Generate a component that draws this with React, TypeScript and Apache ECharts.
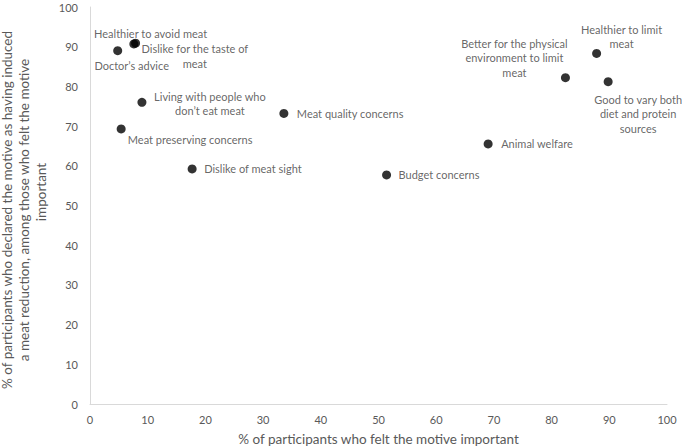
import React, { useEffect, useRef } from "react";
import * as echarts from "echarts";

const motives = [
  "Doctor’s advice",
  "Healthier to avoid meat",
  "Dislike for the taste of\nmeat",
  "Living with people who\ndon’t eat meat",
  "Meat preserving concerns",
  "Dislike of meat sight",
  "Meat quality concerns",
  "Budget concerns",
  "Animal welfare",
  "Better for the physical\nenvironment to limit\nmeat",
  "Healthier to limit\nmeat",
  "Good to vary both\ndiet and protein\nsources",
];
const feltImportant = [4.8, 7.9, 7.6, 9.0, 5.4, 17.7, 33.6, 51.4, 69.0, 82.4, 87.8, 89.8];
const inducedReduction = [89.0, 90.9, 90.7, 76.0, 69.3, 59.2, 73.2, 57.7, 65.5, 82.2, 88.3, 81.2];

// label placement: [align, dx, dy]
const labelPlacement: [string, number, number][] = [
  ["center", 14, 15],
  ["center", 15, -10],
  ["center", 61, 12],
  ["center", 68, 1],
  ["center", 69, 11],
  ["left", 12, 0],
  ["left", 13, 0],
  ["left", 12, 0],
  ["left", 13, 0],
  ["center", -51, -20],
  ["center", 25, -17],
  ["center", 30, 32],
];

const xTicks = [0, 10, 20, 30, 40, 50, 60, 70, 80, 90, 100];

const FONT = "Lato";

export default function App() {
  const ref = useRef<HTMLDivElement>(null);
  useEffect(() => {
    if (!ref.current) return;
    const chart = echarts.init(ref.current, null, { renderer: "svg" });
    const data = motives.map((name, i) => ({
      name,
      value: [feltImportant[i], inducedReduction[i]],
      label: {
        show: true,
        position: "inside",
        align: labelPlacement[i][0],
        verticalAlign: "middle",
        offset: [labelPlacement[i][1], labelPlacement[i][2]],
        formatter: name,
        color: "#404040",
        fontSize: 11,
        fontFamily: FONT,
        lineHeight: 14.5,
      },
    }));
    chart.setOption({
      animation: false,
      backgroundColor: "#ffffff",
      grid: {
        left: 90,
        right: 18,
        top: 7,
        bottom: 44,
        containLabel: false,
        outerBoundsMode: "none",
      },
      xAxis: {
        type: "value",
        min: xTicks[0],
        max: xTicks[xTicks.length - 1],
        interval: 10,
        axisLine: { show: true, lineStyle: { color: "#d9d9d9", width: 1 } },
        axisTick: { show: false },
        splitLine: { show: false },
        axisLabel: { color: "#595959", fontSize: 11, fontFamily: FONT, margin: 10 },
        name: "% of participants who felt the motive important",
        nameLocation: "middle",
        nameGap: 28,
        nameTextStyle: { color: "#595959", fontSize: 13.5, fontFamily: FONT },
      },
      yAxis: {
        type: "value",
        min: 0,
        max: 100,
        interval: 10,
        axisLine: { show: true, lineStyle: { color: "#d9d9d9", width: 1 } },
        axisTick: { show: false },
        splitLine: { show: false },
        axisLabel: { color: "#595959", fontSize: 11, fontFamily: FONT, margin: 12 },
      },
      graphic: [
        {
          type: "text",
          x: 7,
          y: 210,
          rotation: Math.PI / 2,
          style: {
            text: "% of participants who declared the motive as having induced",
            fill: "#595959",
            fontSize: 13.5,
            fontFamily: FONT,
            textAlign: "center",
            textVerticalAlign: "middle",
          },
        },
        {
          type: "text",
          x: 24,
          y: 210,
          rotation: Math.PI / 2,
          style: {
            text: "a meat reduction, among those who felt the motive",
            fill: "#595959",
            fontSize: 13.5,
            fontFamily: FONT,
            textAlign: "center",
            textVerticalAlign: "middle",
          },
        },
        {
          type: "text",
          x: 41,
          y: 192,
          rotation: Math.PI / 2,
          style: {
            text: "important",
            fill: "#595959",
            fontSize: 13.5,
            fontFamily: FONT,
            textAlign: "center",
            textVerticalAlign: "middle",
          },
        },
      ],
      series: [
        {
          type: "scatter",
          symbol: "circle",
          symbolSize: 9,
          itemStyle: { color: "#000000" },
          data,
        },
      ],
    });
    return () => chart.dispose();
  }, []);
  return (
    <div
      ref={ref}
      style={{ position: "fixed", left: 0, top: 0, width: "100vw", height: "100vh" }}
    />
  );
}
